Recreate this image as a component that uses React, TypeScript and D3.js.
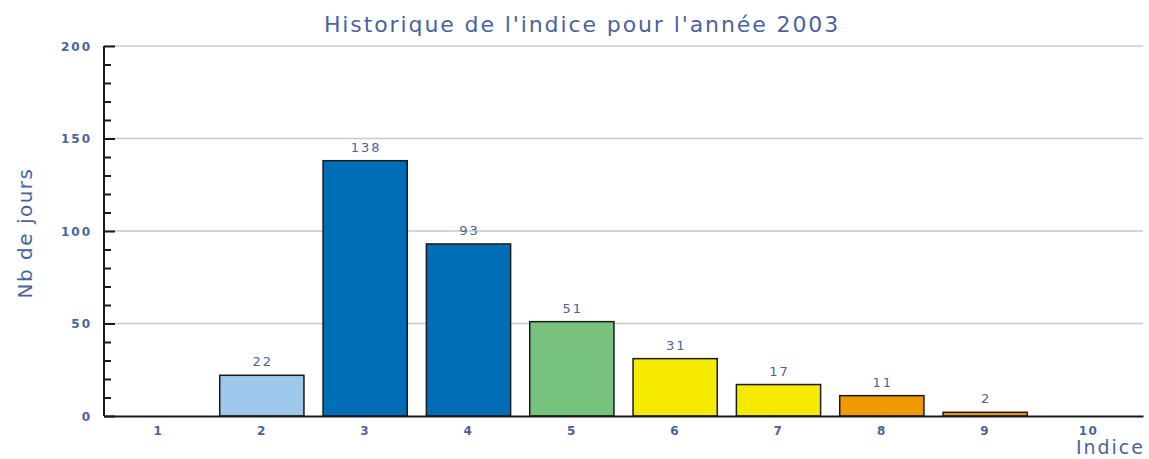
import { useEffect, useRef } from 'react'
import * as d3 from 'd3'

const categories = ['1', '2', '3', '4', '5', '6', '7', '8', '9', '10']
const values = [0, 22, 138, 93, 51, 31, 17, 11, 2, 0]
const barColors = ['#9dc8ec', '#9dc8ec', '#006eb7', '#006eb7', '#77c37d', '#f6eb00', '#f6eb00', '#ee9a00', '#ee9a00', '#ee9a00']
const yTicks = [0, 50, 100, 150, 200]

const title = "Historique de l'indice pour l'année 2003"
const yLabel = 'Nb de jours'
const xLabel = 'Indice'

const WIDTH = 1149
const HEIGHT = 459
const TEXT = '#4a63a0'
const FONT = '"DejaVu Sans", sans-serif'

export default function App() {
  const svgRef = useRef<SVGSVGElement>(null)

  useEffect(() => {
    if (!svgRef.current) return
    const margin = { top: 46, right: 6, bottom: 43, left: 104 }
    const innerWidth = WIDTH - margin.left - margin.right
    const innerHeight = HEIGHT - margin.top - margin.bottom

    const svg = d3.select(svgRef.current)
    svg.selectAll('*').remove()

    const g = svg.append('g').attr('transform', `translate(${margin.left},${margin.top})`)

    const x = d3.scaleBand().domain(categories).range([0, innerWidth]).paddingInner(0.185).paddingOuter(0.12)
    const y = d3.scaleLinear().domain([0, 200]).range([innerHeight, 0])

    // grid
    g.selectAll('.grid')
      .data(yTicks.filter(t => t > 0))
      .join('line')
      .attr('x1', 0)
      .attr('x2', innerWidth)
      .attr('y1', d => y(d))
      .attr('y2', d => y(d))
      .attr('stroke', '#c9c9c9')
      .attr('stroke-width', 1.5)

    // bars
    g.selectAll('.bar')
      .data(values)
      .join('rect')
      .attr('x', (_, i) => x(categories[i])!)
      .attr('y', d => y(d))
      .attr('width', x.bandwidth())
      .attr('height', d => innerHeight - y(d))
      .attr('fill', (_, i) => barColors[i])
      .attr('stroke', d => (d > 0 ? '#1a1a1a' : 'none'))
      .attr('stroke-width', 1.5)

    // value labels
    const labelled = values.map((v, i) => ({ v, c: categories[i] })).filter(d => d.v > 0)
    g.selectAll('.val')
      .data(labelled)
      .join('text')
      .attr('x', d => x(d.c)! + x.bandwidth() / 2 + 1)
      .attr('y', d => y(d.v) - 9)
      .attr('text-anchor', 'middle')
      .attr('fill', TEXT)
      .attr('font-family', FONT)
      .attr('font-size', 13)
      .attr('letter-spacing', 2)
      .text(d => d.v)

    // y axis
    const yAxis = g.append('g')
      .call(d3.axisLeft(y).tickValues(d3.range(0, 201, 10)).tickSize(0).tickFormat(() => ''))
    yAxis.select('.domain').remove()
    yAxis.selectAll('.tick line').remove()
    yAxis.selectAll('.tick')
      .append('line')
      .attr('x1', 0)
      .attr('x2', (d: any) => (d % 50 === 0 ? 11 : 7))
      .attr('stroke', '#1a1a1a')
      .attr('stroke-width', 2)
    yAxis.append('line')
      .attr('x1', 0).attr('x2', 0).attr('y1', 0).attr('y2', innerHeight)
      .attr('stroke', '#1a1a1a').attr('stroke-width', 2)
    yAxis.selectAll('.tick')
      .filter((d: any) => yTicks.includes(d))
      .append('text')
      .attr('x', -12)
      .attr('dy', '0.35em')
      .attr('text-anchor', 'end')
      .attr('fill', TEXT)
      .attr('font-family', FONT)
      .attr('font-weight', 'bold')
      .attr('font-size', 12)
      .attr('letter-spacing', 2)
      .text((d: any) => d)

    // x axis
    const xAxis = g.append('g')
      .attr('transform', `translate(0,${innerHeight})`)
      .call(d3.axisBottom(x).tickSize(0).tickPadding(10))
    xAxis.select('.domain').attr('stroke', '#1a1a1a').attr('stroke-width', 2)
    xAxis.selectAll('text')
      .attr('fill', TEXT)
      .attr('font-family', FONT)
      .attr('font-weight', 'bold')
      .attr('font-size', 12)
      .attr('letter-spacing', 1.5)

    svg.append('text')
      .attr('x', 582)
      .attr('y', 32)
      .attr('text-anchor', 'middle')
      .attr('fill', TEXT)
      .attr('font-family', FONT)
      .attr('font-size', 22)
      .attr('letter-spacing', 1.9)
      .text(title)

    svg.append('text')
      .attr('transform', 'rotate(-90)')
      .attr('x', -233)
      .attr('y', 32)
      .attr('text-anchor', 'middle')
      .attr('fill', TEXT)
      .attr('font-family', FONT)
      .attr('font-size', 20)
      .attr('letter-spacing', 1.5)
      .text(yLabel)

    svg.append('text')
      .attr('x', 1145)
      .attr('y', 454)
      .attr('text-anchor', 'end')
      .attr('fill', TEXT)
      .attr('font-family', FONT)
      .attr('font-size', 19)
      .attr('letter-spacing', 2)
      .text(xLabel)
  }, [])

  return (
    <svg
      ref={svgRef}
      width={WIDTH}
      height={HEIGHT}
      style={{ position: 'absolute', left: 0, top: 0, background: '#fff' }}
    />
  )
}
